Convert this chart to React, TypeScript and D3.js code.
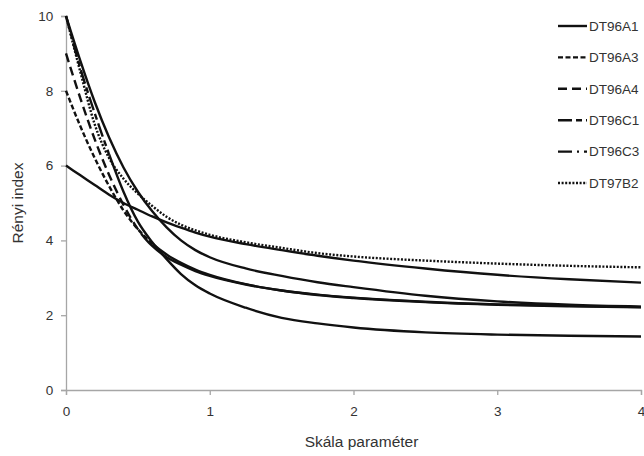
import { useEffect, useRef } from "react";
import * as d3 from "d3";

// scale parameter values (x)
const alphas = [0, 0.1, 0.2, 0.3, 0.4, 0.5, 0.6, 0.7, 0.8, 0.9, 1, 1.25, 1.5, 1.75, 2, 2.5, 3, 3.5, 4];

const seriesNames = ["DT96A1", "DT96A3", "DT96A4", "DT96C1", "DT96C3", "DT97B2"];

// Rényi index values
const dt96a1 = [10, 8.8, 7.7, 6.75, 5.95, 5.3, 4.78, 4.35, 4.0, 3.74, 3.55, 3.25, 3.05, 2.88, 2.75, 2.52, 2.37, 2.28, 2.23];
const dt96a3 = [8, 7.05, 6.2, 5.45, 4.8, 4.3, 3.92, 3.62, 3.4, 3.22, 3.08, 2.83, 2.66, 2.54, 2.46, 2.35, 2.28, 2.24, 2.21];
const dt96a4 = [9, 7.8, 6.7, 5.75, 4.95, 4.3, 3.85, 3.55, 3.35, 3.18, 3.05, 2.82, 2.66, 2.55, 2.47, 2.36, 2.29, 2.25, 2.22];
const dt96c1 = [10, 8.6, 7.4, 6.3, 5.3, 4.5, 3.95, 3.5, 3.1, 2.8, 2.58, 2.2, 1.93, 1.78, 1.67, 1.54, 1.48, 1.45, 1.43];
const dt96c3 = [6, 5.74, 5.48, 5.22, 5.0, 4.82, 4.64, 4.48, 4.34, 4.21, 4.1, 3.9, 3.74, 3.59, 3.46, 3.25, 3.08, 2.96, 2.87];
const dt97b2 = [10, 8.5, 7.1, 6.2, 5.65, 5.25, 4.92, 4.63, 4.42, 4.27, 4.15, 3.95, 3.8, 3.66, 3.57, 3.46, 3.38, 3.32, 3.28];

const seriesValues = [dt96a1, dt96a3, dt96a4, dt96c1, dt96c3, dt97b2];

const xTicks = [0, 1, 2, 3, 4];
const yTicks = [0, 2, 4, 6, 8, 10];

// dash look, and where the steep part ends (Excel restarts dashes per segment,
// so the flat part of the curves looks solid)
const dashes = ["", "5,2.5", "9,5", "14,4,6,4", "14,5,2,5", "2,1.6"];
const dashUntil = [0, 0.6, 0.55, 0.3, 0, 4];

export default function App() {
  const ref = useRef<SVGSVGElement>(null);

  useEffect(() => {
    document.body.style.margin = "0";
    if (!ref.current) return;
    const width = 644;
    const height = 456;
    const margin = { top: 16, right: 3, bottom: 66, left: 66 };

    const svg = d3.select(ref.current);
    svg.selectAll("*").remove();

    const x = d3.scaleLinear().domain([0, 4]).range([margin.left, 641]);
    const y = d3.scaleLinear().domain([0, 10]).range([390, margin.top]);

    const font = "Liberation Sans, Arial, sans-serif";
    const axisColor = "#a6a6a6";
    const textColor = "#333";

    // x axis
    const xAxis = svg.append("g").attr("transform", `translate(0,${y(0)})`)
      .call(d3.axisBottom(x).tickValues(xTicks).tickSize(5).tickFormat(d3.format("d")));
    // y axis
    const yAxis = svg.append("g").attr("transform", `translate(${x(0)},0)`)
      .call(d3.axisLeft(y).tickValues(yTicks).tickSize(5).tickFormat(d3.format("d")));

    [xAxis, yAxis].forEach((g) => {
      g.select(".domain").attr("stroke", axisColor).attr("stroke-width", 1.3);
      g.selectAll(".tick line").attr("stroke", axisColor).attr("stroke-width", 1.3);
      g.selectAll(".tick text").attr("fill", textColor).style("font-family", font).style("font-size", "13.5px");
    });
    xAxis.selectAll(".tick text").attr("dy", "1.3em");
    yAxis.selectAll(".tick text").attr("dx", "-0.35em");

    // titles
    svg.append("text")
      .attr("x", (x(0) + x(4)) / 2 + 8)
      .attr("y", 447)
      .attr("text-anchor", "middle")
      .attr("fill", textColor)
      .style("font-family", font)
      .style("font-size", "15.5px")
      .text("Skála paraméter");

    svg.append("text")
      .attr("transform", `translate(23,${(y(0) + y(10)) / 2}) rotate(-90)`)
      .attr("text-anchor", "middle")
      .attr("fill", textColor)
      .style("font-family", font)
      .style("font-size", "15.5px")
      .text("Rényi index");

    const defs = svg.append("defs");
    const line = d3.line<number>()
      .x((_, i) => x(alphas[i]))
      .y((d) => y(d))
      .curve(d3.curveMonotoneX);

    const plot = svg.append("g");
    seriesValues.forEach((vals, i) => {
      const cut = x(dashUntil[i]);
      defs.append("clipPath").attr("id", `dash-${i}`)
        .append("rect").attr("x", 0).attr("y", 0).attr("width", cut).attr("height", height);
      defs.append("clipPath").attr("id", `solid-${i}`)
        .append("rect").attr("x", cut).attr("y", 0).attr("width", width - cut).attr("height", height);

      const d = line(vals) as string;
      const dashed = dashes[i] && dashUntil[i] > 0;
      if (dashed) {
        plot.append("path")
          .attr("d", d)
          .attr("fill", "none")
          .attr("stroke", "#111")
          .attr("stroke-width", 2.4)
          .attr("stroke-dasharray", dashes[i])
          .attr("clip-path", `url(#dash-${i})`);
      }
      if (dashUntil[i] < 4) {
        plot.append("path")
          .attr("d", d)
          .attr("fill", "none")
          .attr("stroke", "#111")
          .attr("stroke-width", 2.4)
          .attr("clip-path", dashed ? `url(#solid-${i})` : null);
      }
    });

    // legend
    const legend = svg.append("g");
    seriesNames.forEach((name, i) => {
      const ly = 26 + i * 31.4;
      legend.append("line")
        .attr("x1", 558).attr("x2", 587).attr("y1", ly).attr("y2", ly)
        .attr("stroke", "#111").attr("stroke-width", 2.4)
        .attr("stroke-dasharray", dashes[i] || null);
      legend.append("text")
        .attr("x", 589).attr("y", ly).attr("dy", "0.35em")
        .attr("fill", textColor)
        .style("font-family", font)
        .style("font-size", "13.5px")
        .text(name);
    });
  }, []);

  return <svg ref={ref} width={644} height={456} style={{ display: "block", background: "#fff" }} />;
}
